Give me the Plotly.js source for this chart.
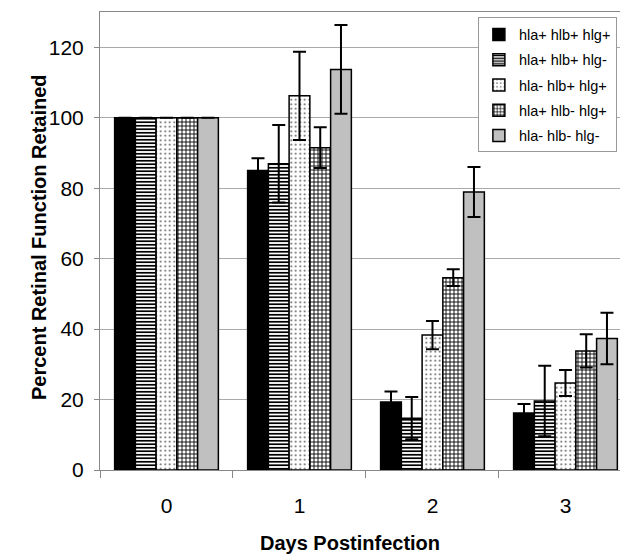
<!DOCTYPE html>
<html>
<head>
<meta charset="utf-8">
<script src="https://cdn.plot.ly/plotly-3.0.1.min.js"></script>
<style>html,body{margin:0;padding:0;background:#fff;}#chart{width:620px;height:554px;}</style>
</head>
<body>
<div id="chart"></div>
<script>
const days = ["0", "1", "2", "3"];
const seriesNames = ["hla+ hlb+ hlg+", "hla+ hlb+ hlg-", "hla- hlb+ hlg+", "hla+ hlb- hlg+", "hla- hlb- hlg-"];
const vals1 = [100, 85.0, 19.3, 16.2];
const err1  = [0, 3.5, 3.0, 2.5];
const vals2 = [100, 86.9, 14.7, 19.6];
const err2  = [0, 11.0, 6.0, 10.0];
const vals3 = [100, 106.2, 38.3, 24.7];
const err3  = [0, 12.5, 4.0, 3.7];
const vals4 = [100, 91.5, 54.6, 33.8];
const err4  = [0, 5.8, 2.4, 4.7];
const vals5 = [100, 113.7, 78.9, 37.3];
const err5  = [0, 12.6, 7.1, 7.3];
const xTitle = "Days Postinfection";
const yTitle = "Percent Retinal Function Retained";

const values = [vals1, vals2, vals3, vals4, vals5];
const errs = [err1, err2, err3, err4, err5];
const fills = ["#000000", "#ffffff", "#ffffff", "#ffffff", "#c0c0c0"];
const patterns = [
  {shape: ""},
  {shape: "-", fgcolor: "#000", bgcolor: "#fff", size: 3.5, solidity: 0.5, fillmode: "replace"},
  {shape: ".", fgcolor: "#555", bgcolor: "#fff", size: 4.5, solidity: 0.15, fillmode: "replace"},
  {shape: "+", fgcolor: "#000", bgcolor: "#fff", size: 4, solidity: 0.4, fillmode: "replace"},
  {shape: ""}
];

const traces = seriesNames.map((n, i) => ({
  type: "bar",
  name: n,
  legendgroup: "g" + i,
  x: days,
  y: values[i],
  marker: {color: fills[i], pattern: patterns[i], line: {color: "#000", width: 1.5}},
  error_y: {type: "data", array: errs[i], visible: true, color: "#000", thickness: 2, width: 6.5},
  hoverinfo: "skip"
}));

const layout = {
  width: 620, height: 554,
  margin: {l: 100, r: 0, t: 12, b: 84},
  paper_bgcolor: "#fff", plot_bgcolor: "#fff",
  font: {family: "Liberation Sans, Arial, sans-serif", color: "#000"},
  barmode: "group",
  bargap: 0.22,
  bargroupgap: 0,
  showlegend: true,
  legend: {
    x: 0.994, y: 0.988, xanchor: "right", yanchor: "top",
    bgcolor: "#fff", bordercolor: "#999", borderwidth: 1,
    font: {size: 14.5, family: "Liberation Sans, Arial, sans-serif"},
    itemwidth: 30, tracegroupgap: 3.4
  },
  xaxis: {
    type: "category",
    range: [-0.5, 3.41],
    tickson: "boundaries",
    ticks: "outside", ticklen: 7, tickcolor: "#888",
    showline: true, linecolor: "#888", linewidth: 1, mirror: true,
    showgrid: false,
    tickfont: {size: 21},
    ticklabelstandoff: 17
  },
  yaxis: {
    range: [0, 130],
    tickvals: [0, 20, 40, 60, 80, 100, 120],
    ticks: "outside", ticklen: 5, tickcolor: "#888",
    showline: true, linecolor: "#888", linewidth: 1,
    showgrid: true, gridcolor: "#aaa", gridwidth: 1,
    zeroline: false,
    tickfont: {size: 21},
    ticklabelstandoff: 6
  },
  annotations: [
    {text: "<b>" + xTitle + "</b>", xref: "paper", yref: "paper", x: 0.481, y: -0.159,
     xanchor: "center", yanchor: "middle", showarrow: false, font: {size: 20}},
    {text: "<b>" + yTitle + "</b>", xref: "paper", yref: "paper", x: -0.117, y: 0.509,
     xanchor: "center", yanchor: "middle", textangle: -90, showarrow: false, font: {size: 20}}
  ]
};

Plotly.newPlot("chart", traces, layout, {displayModeBar: false, staticPlot: true});
</script>
</body>
</html>
